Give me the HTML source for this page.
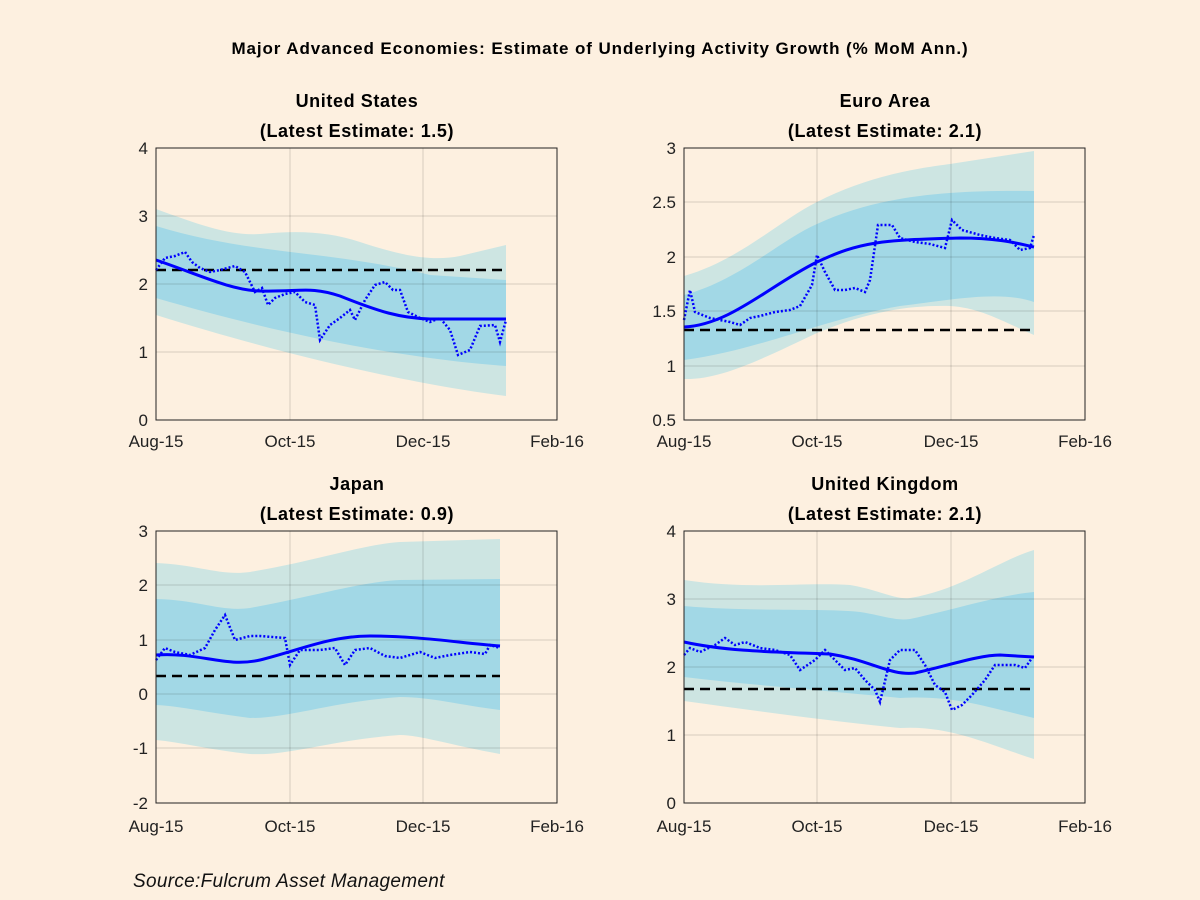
<!DOCTYPE html>
<html><head><meta charset="utf-8"><style>
html,body{margin:0;padding:0;background:#fdf0e0;}
svg{display:block;font-family:"Liberation Sans",sans-serif;}
.t{font-weight:bold;font-size:18px;letter-spacing:0.6px;text-anchor:middle;fill:#000}
.tk{font-size:17px;fill:#222}
.g{stroke:#000;stroke-opacity:.15;stroke-width:1}
.o{fill:#cde5e2}.i{fill:#a2d8e6}
.s{fill:none;stroke:#0000ff;stroke-width:3}
.d{fill:none;stroke:#0000ff;stroke-width:2.5;stroke-dasharray:2,2}
.k{fill:none;stroke:#000;stroke-width:2.5;stroke-dasharray:10,6}
.ax{fill:none;stroke:#222;stroke-width:1}
</style></head><body>
<svg width="1200" height="900" viewBox="0 0 1200 900">
<rect width="1200" height="900" fill="#fdf0e0"/>
<text x="600" y="54" class="t" style="font-size:17px;letter-spacing:0.9px">Major Advanced Economies: Estimate of Underlying Activity Growth (% MoM Ann.)</text>

<!-- US -->
<text x="357" y="107" class="t">United States</text>
<text x="357" y="137" class="t">(Latest Estimate: 1.5)</text>
<path class="o" d="M156,209 C200,225 230,236 260,234 C300,230 330,232 360,242 C400,255 430,262 460,256 L506,245 L506,396 C420,385 300,360 156,315 Z"/>
<path class="i" d="M156,226 C250,255 330,250 430,275 L506,280 L506,366 C420,360 300,340 156,298 Z"/>
<g class="g"><line x1="290" y1="148" x2="290" y2="420"/><line x1="423" y1="148" x2="423" y2="420"/><line x1="156" y1="216" x2="557" y2="216"/><line x1="156" y1="284" x2="557" y2="284"/><line x1="156" y1="352" x2="557" y2="352"/></g>
<line class="k" x1="156" y1="270" x2="506" y2="270"/>
<path class="d" d="M156,270 L165,258 175,256 185,252 192,262 200,268 210,272 220,270 235,266 245,272 255,292 262,288 268,305 275,298 285,294 295,292 305,302 315,305 320,340 330,325 340,318 350,310 355,320 365,300 375,285 385,282 393,290 400,290 408,312 420,318 430,322 440,318 450,330 458,355 470,350 480,326 495,325 500,342 506,320"/>
<path class="s" d="M156,260 C200,275 230,290 260,291 C300,292 310,286 340,296 C380,312 400,318 430,319 L506,319"/>
<rect class="ax" x="156" y="148" width="401" height="272"/>
<g class="tk" text-anchor="end"><text x="148" y="154">4</text><text x="148" y="222">3</text><text x="148" y="290">2</text><text x="148" y="358">1</text><text x="148" y="426">0</text></g>
<g class="tk" text-anchor="middle"><text x="156" y="447">Aug-15</text><text x="290" y="447">Oct-15</text><text x="423" y="447">Dec-15</text><text x="557" y="447">Feb-16</text></g>

<!-- Euro -->
<text x="885" y="107" class="t">Euro Area</text>
<text x="885" y="137" class="t">(Latest Estimate: 2.1)</text>
<path class="o" d="M684,276 C740,260 780,220 817,202 C870,175 920,168 950,164 L1034,151 L1034,335 C1000,320 980,308 950,306 C900,305 860,315 817,333 C760,360 720,380 684,379 Z"/>
<path class="i" d="M684,295 C740,280 780,240 817,224 C880,195 950,190 1034,191 L1034,302 C1000,290 950,300 900,306 C820,320 760,350 684,360 Z"/>
<g class="g"><line x1="817" y1="148" x2="817" y2="420"/><line x1="951" y1="148" x2="951" y2="420"/><line x1="684" y1="202" x2="1085" y2="202"/><line x1="684" y1="257" x2="1085" y2="257"/><line x1="684" y1="311" x2="1085" y2="311"/><line x1="684" y1="366" x2="1085" y2="366"/></g>
<line class="k" x1="684" y1="330" x2="1034" y2="330"/>
<path class="d" d="M684,320 L690,290 695,312 710,318 730,322 740,325 750,318 760,316 775,312 790,310 800,306 812,285 817,255 825,272 835,290 845,290 855,288 865,292 870,280 878,225 892,225 900,238 915,242 930,244 945,248 952,220 962,230 980,235 995,238 1010,240 1020,250 1030,248 1034,235"/>
<path class="s" d="M684,327 C730,325 770,285 817,262 C860,242 880,240 960,238 C1000,238 1020,244 1034,247"/>
<rect class="ax" x="684" y="148" width="401" height="272"/>
<g class="tk" text-anchor="end"><text x="676" y="154">3</text><text x="676" y="208">2.5</text><text x="676" y="263">2</text><text x="676" y="317">1.5</text><text x="676" y="372">1</text><text x="676" y="426">0.5</text></g>
<g class="tk" text-anchor="middle"><text x="684" y="447">Aug-15</text><text x="817" y="447">Oct-15</text><text x="951" y="447">Dec-15</text><text x="1085" y="447">Feb-16</text></g>

<!-- Japan -->
<text x="357" y="490" class="t">Japan</text>
<text x="357" y="520" class="t">(Latest Estimate: 0.9)</text>
<path class="o" d="M156,563 C200,565 220,576 250,572 C320,560 360,545 400,542 L500,539 L500,754 C450,745 420,735 400,735 C330,740 290,756 250,754 C210,750 180,742 156,740 Z"/>
<path class="i" d="M156,599 C200,600 220,612 250,608 C320,595 360,582 400,580 L500,579 L500,710 C460,705 430,697 400,697 C330,702 290,718 250,718 C210,713 180,706 156,705 Z"/>
<g class="g"><line x1="290" y1="531" x2="290" y2="803"/><line x1="423" y1="531" x2="423" y2="803"/><line x1="156" y1="585" x2="557" y2="585"/><line x1="156" y1="640" x2="557" y2="640"/><line x1="156" y1="694" x2="557" y2="694"/><line x1="156" y1="748" x2="557" y2="748"/></g>
<line class="k" x1="156" y1="676" x2="500" y2="676"/>
<path class="d" d="M156,660 L165,648 175,652 190,655 205,648 215,630 225,615 235,640 250,636 260,636 285,638 290,665 300,650 320,650 335,648 345,665 355,650 370,648 385,656 400,658 420,652 435,658 450,655 470,652 485,654 490,645 500,648"/>
<path class="s" d="M156,655 C200,652 225,668 260,660 C300,650 330,636 370,636 C420,636 460,643 500,646"/>
<rect class="ax" x="156" y="531" width="401" height="272"/>
<g class="tk" text-anchor="end"><text x="148" y="537">3</text><text x="148" y="591">2</text><text x="148" y="646">1</text><text x="148" y="700">0</text><text x="148" y="754">-1</text><text x="148" y="809">-2</text></g>
<g class="tk" text-anchor="middle"><text x="156" y="832">Aug-15</text><text x="290" y="832">Oct-15</text><text x="423" y="832">Dec-15</text><text x="557" y="832">Feb-16</text></g>

<!-- UK -->
<text x="885" y="490" class="t">United Kingdom</text>
<text x="885" y="520" class="t">(Latest Estimate: 2.1)</text>
<path class="o" d="M684,580 C750,590 800,582 850,585 C880,590 895,600 910,598 C960,590 1000,560 1034,550 L1034,759 C990,745 950,725 900,728 C820,720 750,710 684,701 Z"/>
<path class="i" d="M684,606 C750,612 820,608 860,612 C885,616 895,621 910,619 C960,608 1000,595 1034,592 L1034,718 C980,705 950,695 900,698 C820,690 750,685 684,677 Z"/>
<g class="g"><line x1="817" y1="531" x2="817" y2="803"/><line x1="951" y1="531" x2="951" y2="803"/><line x1="684" y1="599" x2="1085" y2="599"/><line x1="684" y1="667" x2="1085" y2="667"/><line x1="684" y1="735" x2="1085" y2="735"/></g>
<line class="k" x1="684" y1="689" x2="1034" y2="689"/>
<path class="d" d="M684,655 L690,648 700,652 715,645 725,638 735,645 745,642 760,648 775,650 790,655 800,670 815,660 825,650 835,660 845,670 855,668 865,680 875,690 880,702 890,660 900,650 915,650 925,665 935,685 945,692 952,710 962,705 972,695 985,680 995,665 1015,665 1025,668 1034,655"/>
<path class="s" d="M684,642 C730,652 780,652 830,654 C870,660 890,676 915,673 C950,665 980,655 1000,655 L1034,657"/>
<rect class="ax" x="684" y="531" width="401" height="272"/>
<g class="tk" text-anchor="end"><text x="676" y="537">4</text><text x="676" y="605">3</text><text x="676" y="673">2</text><text x="676" y="741">1</text><text x="676" y="809">0</text></g>
<g class="tk" text-anchor="middle"><text x="684" y="832">Aug-15</text><text x="817" y="832">Oct-15</text><text x="951" y="832">Dec-15</text><text x="1085" y="832">Feb-16</text></g>

<text x="133" y="887" style="font-size:19px;font-style:italic;fill:#111;letter-spacing:0.3px">Source:Fulcrum Asset Management</text>
</svg>
</body></html>
